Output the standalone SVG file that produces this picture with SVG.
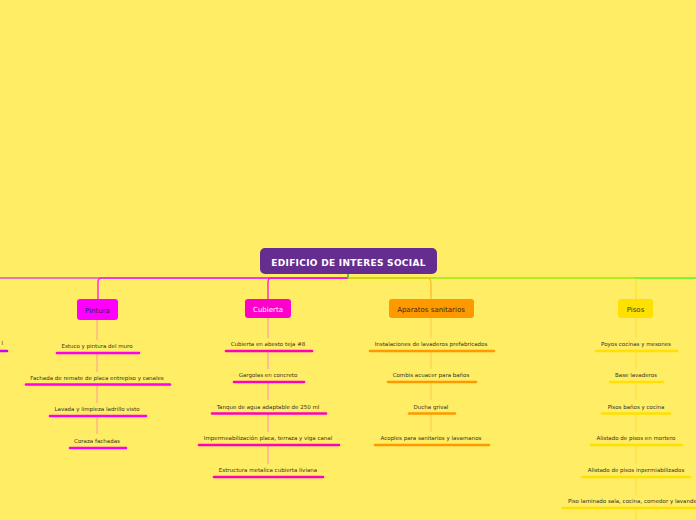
<svg xmlns="http://www.w3.org/2000/svg" width="696" height="520" viewBox="0 0 696 520">
<style>
.t{font-family:"DejaVu Sans",Verdana,sans-serif;font-size:5.5px;fill:#333322;text-anchor:middle}
.n{font-family:"DejaVu Sans",Verdana,sans-serif;font-size:7px;text-anchor:middle}
.bar{stroke-width:2.6;stroke-linecap:round;fill:none}
.v{stroke-width:1;fill:none}
.pin{stroke:#FF00EE}
.cub{stroke:#FF00BB}
.apa{stroke:#FF9900}
.pis{stroke:#FFE000}
</style>
<rect width="696" height="520" fill="#FFED66"/>
<g id="connectors">
<path d="M348 274 V278 H0" stroke="#CC00FF" stroke-width="1.2" fill="none"/>
<path d="M348 278 H102 Q98 278 98 282 V299" stroke="#FF00FF" stroke-width="1.2" fill="none"/>
<path d="M348 278 H272 Q268 278 268 282 V299" stroke="#FF00CC" stroke-width="1.2" fill="none"/>
<path d="M348 274 V278 H696" stroke="#00FF00" stroke-width="1.2" fill="none"/>
<path d="M348 278 H427 Q431 278 431 282 V299" stroke="#FF9900" stroke-width="0.8" fill="none"/>
<path d="M348 278 H632 Q636 278 636 282 V299" stroke="#FFE000" stroke-width="0.8" fill="none"/>
<path d="M97 320 V340 M97 354 V372 M97 386 V403 M97 418 V434" stroke="#FF9999" class="v"/>
<path d="M268 318 V338 M268 352 V369 M268 383 V400 M268 414 V432 M268 446 V464" stroke="#FF88BB" class="v"/>
<path d="M431 318 V338 M431 352 V369 M431 383 V400 M431 414 V432" stroke="#FFC844" class="v"/>
<path d="M636 318 V338 M636 352 V369 M636 383 V400 M636 414 V432 M636 446 V464 M636 478 V495 M636 509 V520" stroke="#FFE030" class="v"/>
</g>
<g id="root">
<rect x="260" y="248" width="177" height="26" rx="5" fill="#662D91"/>
<text x="348.5" y="265.5" font-family="'DejaVu Sans',Verdana,sans-serif" font-size="9" font-weight="bold" letter-spacing="0.3" fill="#ffffff" text-anchor="middle">EDIFICIO DE INTERES SOCIAL</text>
</g>
<g id="offleft">
<text x="3" y="345" class="t" style="text-anchor:end">l</text>
<path d="M0 351 H7" class="bar" stroke="#CC00FF"/>
</g>
<g id="pintura">
<rect x="77" y="299" width="41" height="21" rx="3" fill="#FF00FF"/>
<text x="97.5" y="312.5" class="n" fill="#3a1a3a">Pintura</text>
</g>
<g id="pintura-items">
<text x="97" y="348" class="t">Estuco y pintura del muro</text>
<path d="M57 353 H139" class="bar pin"/>
<text x="97" y="380" class="t">Fachada de remate de placa entrepiso y canales</text>
<path d="M26 384.5 H170" class="bar pin"/>
<text x="97" y="411" class="t">Lavada y limpieza ladrillo visto</text>
<path d="M50 416 H146" class="bar pin"/>
<text x="97" y="443" class="t">Coraza fachadas</text>
<path d="M70 448 H126" class="bar pin"/>
</g>
<g id="cubierta">
<rect x="245" y="299" width="46" height="19" rx="3" fill="#FF00CC"/>
<text x="268" y="311.5" class="n" fill="#ffffff">Cubierta</text>
</g>
<g id="cubierta-items">
<text x="268" y="346" class="t">Cubierta en  abesto teja #8</text>
<path d="M226 351 H312" class="bar cub"/>
<text x="268" y="377" class="t">Gargolas en concreto</text>
<path d="M234 382 H304" class="bar cub"/>
<text x="268" y="409" class="t">Tanque de agua adaptable de 250 ml</text>
<path d="M212 413.5 H326" class="bar cub"/>
<text x="268" y="440" class="t">Impermeabilización placa, terraza y viga canal</text>
<path d="M199 445 H339" class="bar cub"/>
<text x="268" y="472" class="t">Estructura metalica cubierta liviana</text>
<path d="M214 477 H323" class="bar cub"/>
</g>
<g id="aparatos">
<rect x="389" y="299" width="85" height="19" rx="3" fill="#FF9900"/>
<text x="431" y="311.5" class="n" fill="#3a2a10">Aparatos sanitarios</text>
</g>
<g id="aparatos-items">
<text x="431" y="346" class="t">Instalaciones de lavaderos prefabricados</text>
<path d="M370 351 H494" class="bar apa"/>
<text x="431" y="377" class="t">Combis acuacer para baños</text>
<path d="M388 382 H476" class="bar apa"/>
<text x="431" y="409" class="t">Ducha grival</text>
<path d="M409 413.5 H455" class="bar apa"/>
<text x="431" y="440" class="t">Acoples para sanitarios y lavamanos</text>
<path d="M375 445 H489" class="bar apa"/>
</g>
<g id="pisos">
<rect x="618" y="299" width="35" height="19" rx="3" fill="#FFE000"/>
<text x="635.5" y="311.5" class="n" fill="#3a3a2a">Pisos</text>
</g>
<g id="pisos-items">
<text x="636" y="346" class="t">Poyos cocinas y mesones</text>
<path d="M596 351 H677" class="bar pis"/>
<text x="636" y="377" class="t">Base lavaderos</text>
<path d="M610 382 H663" class="bar pis"/>
<text x="636" y="409" class="t">Pisos baños y cocina</text>
<path d="M602 413.5 H670" class="bar pis"/>
<text x="636" y="440" class="t">Alistado de pisos en mortero</text>
<path d="M591 445 H682" class="bar pis"/>
<text x="636" y="472" class="t">Alistado de pisos inpermiabilizados</text>
<path d="M582 477 H690" class="bar pis"/>
<text x="636" y="503" class="t">Piso laminado sala, cocina, comedor y lavandería</text>
<path d="M563 508 H710" class="bar pis"/>
</g>
</svg>
